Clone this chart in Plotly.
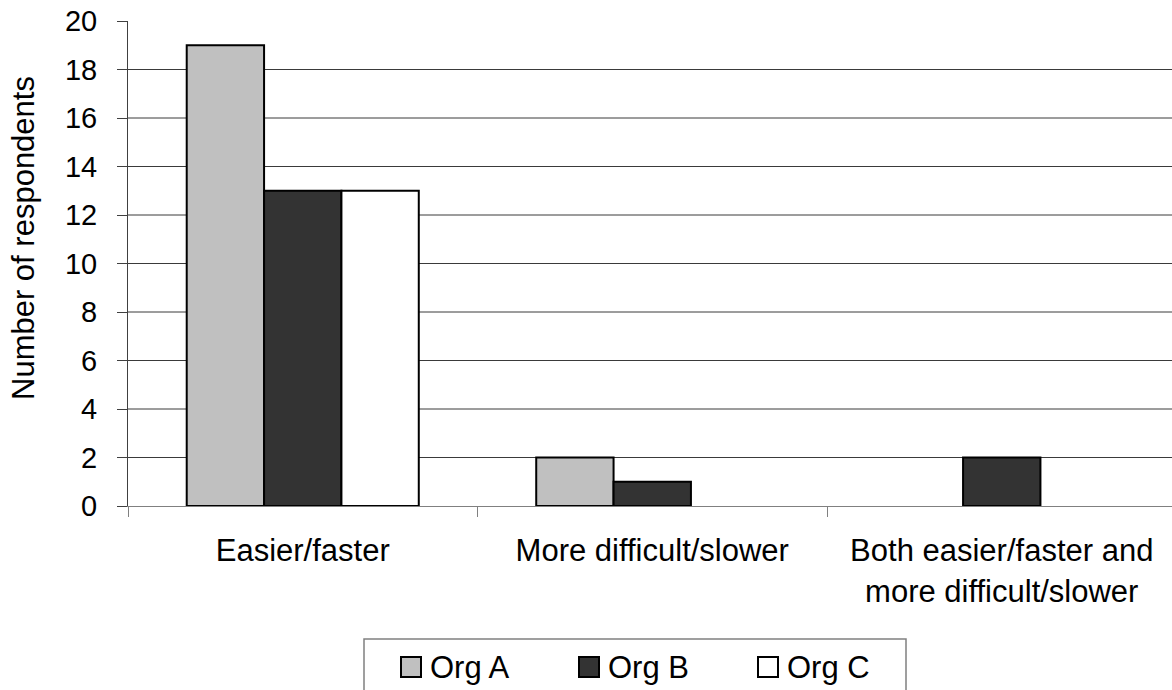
import plotly.graph_objects as go

# Survey responses per organisation
categories = ["Easier/faster", "More difficult/slower",
              "Both easier/faster and<br>more difficult/slower"]
series_names = ["Org A", "Org B", "Org C"]
org_a = [19, 2, 0]
org_b = [13, 1, 2]
org_c = [13, 0, 0]
y_ticks = [0, 2, 4, 6, 8, 10, 12, 14, 16, 18, 20]

values = [org_a, org_b, org_c]
fills = ["#C0C0C0", "#333333", "#FFFFFF"]

FONT = "Liberation Sans, Arial, sans-serif"
W, H = 1172, 690
L, R, T, B = 128, 0, 21, 184
PW, PH = W - L - R, H - T - B


def px(x):
    return (x - L) / PW


def py(y):
    return (H - B - y) / PH


fig = go.Figure()
for name, vals, col in zip(series_names, values, fills):
    # empty bars get no outline so nothing is drawn on the baseline
    widths = [2 if v > 0 else 0 for v in vals]
    fig.add_trace(go.Bar(
        x=categories, y=vals, name=name,
        marker=dict(color=col, line=dict(color="#000000", width=widths)),
        showlegend=False,
    ))

# horizontal gridlines between the axis ends
for v in y_ticks[1:-1]:
    fig.add_shape(type="line", xref="paper", yref="y", x0=0, x1=1, y0=v, y1=v,
                  line=dict(color="#3a3a3a", width=1), layer="below")

# boxed legend beneath the chart
fig.add_shape(type="rect", xref="paper", yref="paper",
              x0=px(364), x1=px(906), y0=py(639), y1=py(720),
              line=dict(color="#808080", width=1.5), fillcolor="rgba(0,0,0,0)")
sq_left = [401, 579, 758]
for name, col, sx in zip(series_names, fills, sq_left):
    fig.add_shape(type="rect", xref="paper", yref="paper",
                  x0=px(sx), x1=px(sx + 20), y0=py(657), y1=py(677),
                  line=dict(color="#000000", width=2), fillcolor=col)
    fig.add_annotation(xref="paper", yref="paper", x=px(sx + 27), y=py(667),
                       text=name, showarrow=False, xanchor="left",
                       yanchor="middle", font=dict(family=FONT, size=31, color="#000"))

fig.add_annotation(xref="paper", yref="paper", x=px(24), y=py(238),
                   text="Number of respondents", textangle=-90, showarrow=False,
                   xanchor="center", yanchor="middle",
                   font=dict(family=FONT, size=31, color="#000"))

fig.update_layout(
    width=W, height=H,
    margin=dict(l=L, r=R, t=T, b=B),
    paper_bgcolor="white", plot_bgcolor="white",
    barmode="group", bargap=0.336, bargroupgap=0,
    font=dict(family=FONT, color="#000"),
    xaxis=dict(
        type="category", range=[-0.5, -0.5 + PW / 349.5],
        tickson="boundaries", ticks="outside", ticklen=10, tickcolor="#808080",
        showline=True, linecolor="#808080", linewidth=1, showgrid=False,
        tickfont=dict(family=FONT, size=31, color="#000"),
        ticklabelstandoff=17,
    ),
    yaxis=dict(
        range=[0, 20], tickvals=y_ticks, ticks="outside", ticklen=10,
        tickcolor="#404040", showline=True, linecolor="#404040", linewidth=1,
        showgrid=False, zeroline=False,
        tickfont=dict(family=FONT, size=29, color="#000"),
        ticklabelstandoff=14,
    ),
)

fig.write_html("out.html")
